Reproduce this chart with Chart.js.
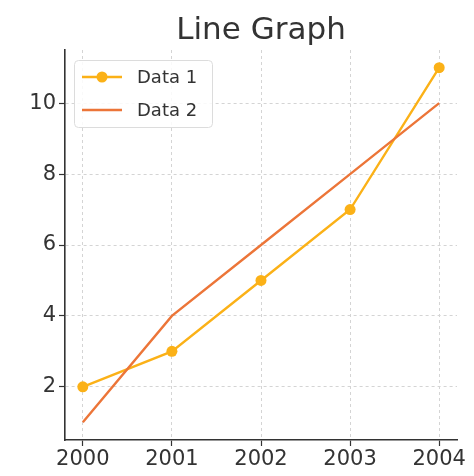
<!DOCTYPE html>
<html><head><meta charset="utf-8">
<script src="https://cdn.jsdelivr.net/npm/chart.js@4/dist/chart.umd.min.js"></script>
<style>html,body{margin:0;padding:0;background:#fff}#wrap{width:474px;height:476px}</style>
</head><body><div id="wrap"><canvas id="c" width="474" height="476"></canvas></div>
<script>
const categories = ['2000','2001','2002','2003','2004'];
const data1 = [2, 3, 5, 7, 11];
const data2 = [1, 4, 6, 8, 10];
const yTicks = [2, 4, 6, 8, 10];
const seriesNames = ['Data 1', 'Data 2'];
const colors = ['#FBB117', '#EC7538'];
const titleText = 'Line Graph';

const FONT = "'DejaVu Sans', sans-serif";

const titlePlugin = {
  id: 'axesTitle',
  afterDraw(chart) {
    const ctx = chart.ctx, a = chart.chartArea;
    ctx.save();
    ctx.font = "31px " + FONT;
    ctx.fillStyle = '#333';
    ctx.textAlign = 'center';
    ctx.textBaseline = 'alphabetic';
    ctx.fillText(titleText, (a.left + a.right) / 2, a.top - 11);
    ctx.restore();
  }
};

const legendPlugin = {
  id: 'innerLegend',
  afterDraw(chart) {
    const ctx = chart.ctx, a = chart.chartArea;
    const x = a.left + 9, y = a.top + 10, w = 138, h = 67;
    ctx.save();
    ctx.fillStyle = 'rgba(255,255,255,0.85)';
    ctx.strokeStyle = '#dcdcdc';
    ctx.lineWidth = 1;
    ctx.beginPath();
    ctx.roundRect(x + 0.5, y + 0.5, w, h, 4);
    ctx.fill(); ctx.stroke();
    ctx.font = "18px " + FONT;
    ctx.textBaseline = 'middle';
    seriesNames.forEach((name, i) => {
      const cy = y + 17 + i * 33;
      ctx.strokeStyle = colors[i];
      ctx.lineWidth = 2.4;
      ctx.beginPath(); ctx.moveTo(x + 8, cy); ctx.lineTo(x + 48, cy); ctx.stroke();
      if (i === 0) {
        ctx.fillStyle = colors[i];
        ctx.beginPath(); ctx.arc(x + 28, cy, 5.5, 0, Math.PI * 2); ctx.fill();
      }
      ctx.fillStyle = '#333';
      ctx.fillText(name, x + 63, cy + 1);
    });
    ctx.restore();
  }
};

new Chart(document.getElementById('c'), {
  type: 'line',
  data: {
    datasets: [
      { label: seriesNames[0], data: data1.map((v, i) => ({x: i, y: v})), borderColor: colors[0], backgroundColor: colors[0],
        borderWidth: 2.4, pointRadius: 5.5, pointBackgroundColor: colors[0], pointBorderWidth: 0, order: 1, tension: 0 },
      { label: seriesNames[1], data: data2.map((v, i) => ({x: i, y: v})), borderColor: colors[1], backgroundColor: colors[1],
        borderWidth: 2.4, pointRadius: 0, order: 0, tension: 0 }
    ]
  },
  plugins: [titlePlugin, legendPlugin],
  options: {
    responsive: false,
    animation: false,
    devicePixelRatio: 1,
    layout: { padding: { left: 0, right: 17, top: 50, bottom: 0 } },
    plugins: {
      legend: { display: false },
      tooltip: { enabled: false },
      title: { display: false }
    },
    scales: {
      x: {
        type: 'linear', min: -0.2, max: 4.2,
        afterBuildTicks(s) { s.ticks = categories.map((c, i) => ({ value: i })); },
        afterFit(s) { s.height = 36; },
        ticks: { callback: v => categories[v], color: '#333', font: { family: FONT, size: 21 }, padding: 1, maxRotation: 0, autoSkip: false },
        grid: { color: '#d4d4d4', tickLength: 6, tickColor: '#333', tickBorderDash: [], tickWidth: 1.2, lineWidth: 1 },
        border: { display: true, color: '#333', width: 1.6, dash: [3, 3] }
      },
      y: {
        min: 0.5, max: 11.5,
        afterBuildTicks(s) { s.ticks = yTicks.map(v => ({ value: v })); },
        afterFit(s) { s.width = 65; },
        ticks: { color: '#333', font: { family: FONT, size: 21 }, padding: 3 },
        grid: { color: '#d4d4d4', tickLength: 6, tickColor: '#333', tickBorderDash: [], tickWidth: 1.2, lineWidth: 1 },
        border: { display: true, color: '#333', width: 1.6, dash: [3, 3] }
      }
    }
  }
});
</script></body></html>
